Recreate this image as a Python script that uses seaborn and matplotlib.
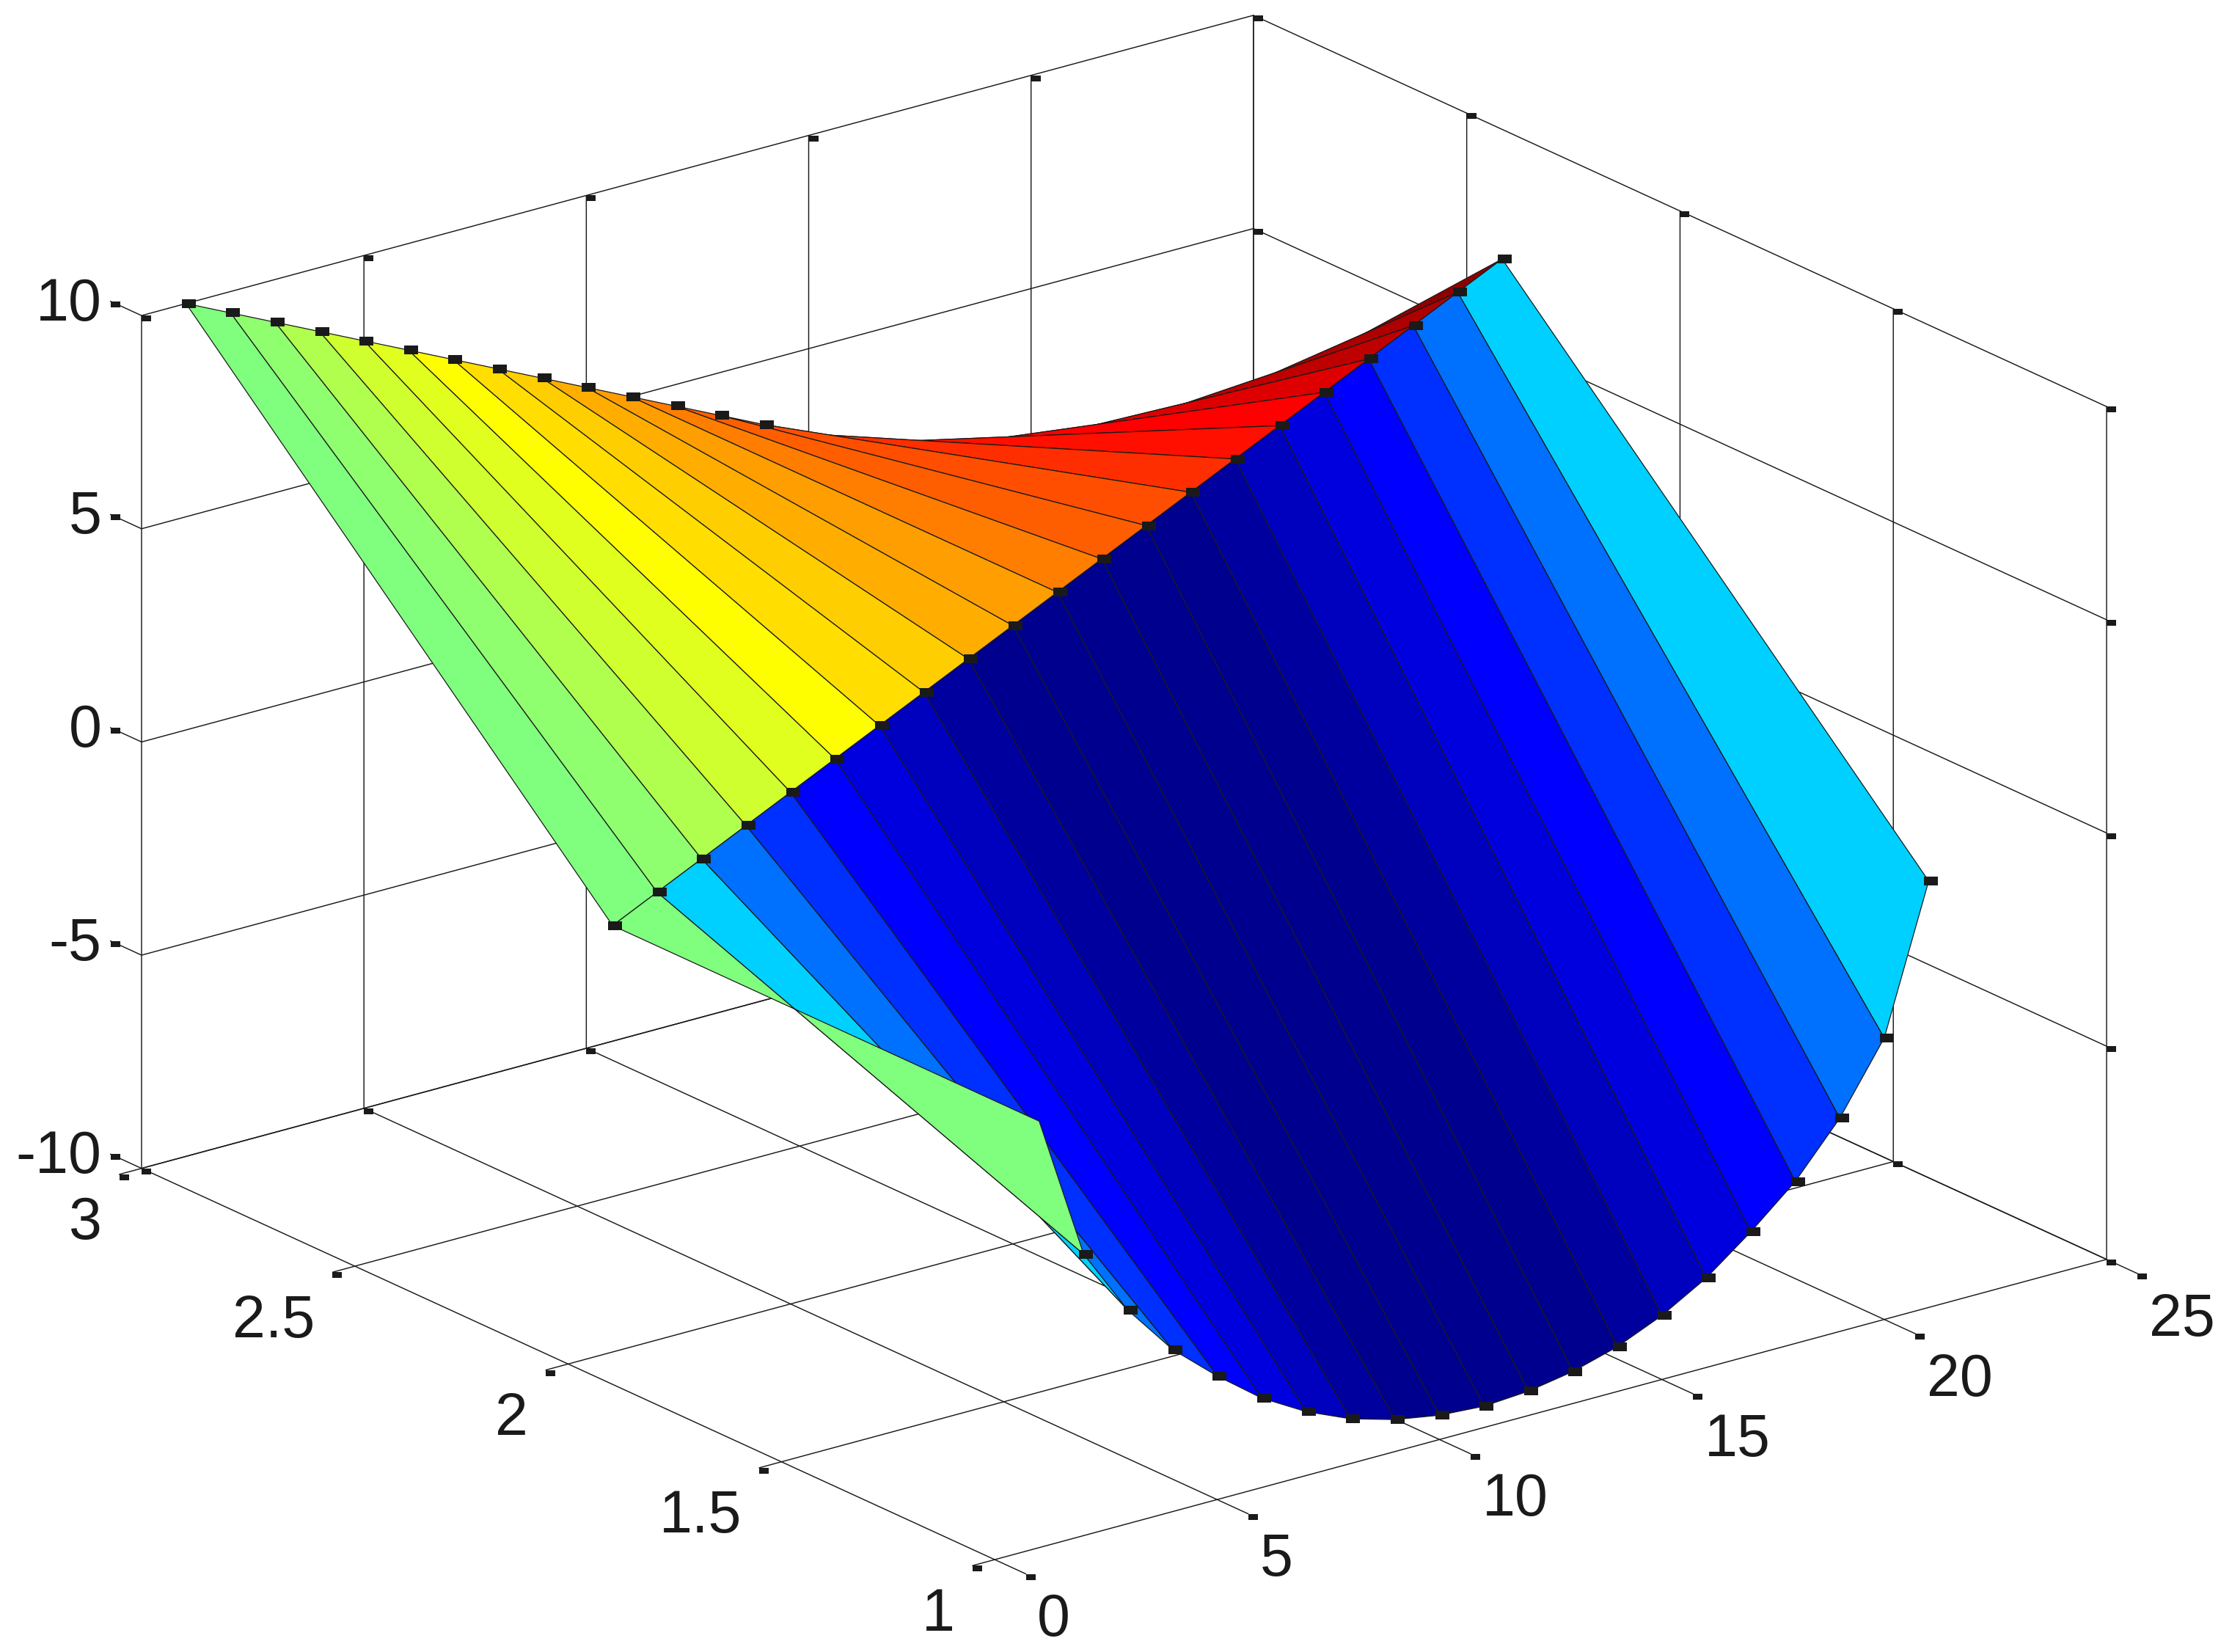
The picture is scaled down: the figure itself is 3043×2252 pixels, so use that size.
import numpy as np
import matplotlib
matplotlib.use("Agg")
import matplotlib.pyplot as plt
from matplotlib.colors import LinearSegmentedColormap, ListedColormap, Normalize
from mpl_toolkits.mplot3d import proj3d
import seaborn as sns

# surface values
x_vals = [1, 2, 3, 4, 5, 6, 7, 8, 9, 10, 11, 12, 13, 14, 15, 16, 17, 18, 19, 20, 21]
y_vals = [1, 2, 3]
z_row1 = [0, -3.4, -5.0, -6.2, -7.1, -7.9, -8.5, -8.95, -9.25, -9.43, -9.5,
          -9.43, -9.25, -8.95, -8.5, -7.9, -7.1, -6.2, -5.0, -3.4, 0]
z_row2 = [0, 0.5, 1, 1.5, 2, 2.5, 3, 3.5, 4, 4.5, 5, 5.5, 6, 6.5, 7, 7.5, 8, 8.5, 9, 9.5, 10]
z_row3 = [10, 9.5, 9, 8.5, 8, 7.5, 7, 6.5, 6, 5.5, 5, 4.5, 4, 3.5, 3, 2.5, 2, 1.5, 1, 0.5, 0]

x_ticks = [0, 5, 10, 15, 20, 25]
y_ticks = [1, 1.5, 2, 2.5, 3]
z_ticks = [-10, -5, 0, 5, 10]
y_tick_labels = ['1', '1.5', '2', '2.5', '3']

sns.set_theme(style="white")
plt.rcParams['font.family'] = ['Liberation Sans', 'DejaVu Sans']

W, H = 3043, 2252
side = 2887
left, bottom = 50, -304
fig = plt.figure(figsize=(W / 300, H / 300), dpi=300, facecolor='white')
ax = fig.add_axes([left / W, bottom / H, side / W, side / H], projection='3d', proj_type='ortho')
ax.view_init(elev=20.6, azim=-127.5)
ax.set_box_aspect((1, 1, 0.65))
ax.computed_zorder = False
ax.set_axis_off()

X, Y = np.meshgrid(x_vals, y_vals)
Z = np.array([z_row1, z_row2, z_row3], dtype=float)

# jet in 64 steps, flat colour taken from the lower corner of each face
ramp = LinearSegmentedColormap.from_list('ramp', [(0, (0, 0, 0.5)), (1 / 8, (0, 0, 1)), (3 / 8, (0, 1, 1)),
                                                  (5 / 8, (1, 1, 0)), (7 / 8, (1, 0, 0)), (1, (0.5, 0, 0))], N=640)
jet = ListedColormap([ramp((i + 1) / 64) for i in range(64)])
norm = Normalize(Z.min(), Z.max())
surf = ax.plot_surface(X, Y, Z, facecolors=jet(norm(Z)), rstride=1, cstride=1,
                       shade=False, linewidth=0.3, antialiased=True, zorder=2)
surf.set_edgecolor('k')

# small black marks at the line ends
corner_mark = [(0, -0.6), (1, -0.6), (1, 0), (0, 0)]
vertex_mark = [(-0.3, -0.3), (0.7, -0.3), (0.7, 0.3), (-0.3, 0.3)]
grid_style = dict(color='k', lw=0.35, zorder=1)
mark_style = dict(color='k', ls='none', marker=corner_mark, ms=6.2, mew=0, zorder=1)

x0, x1 = x_ticks[0], x_ticks[-1]
y0, y1 = y_ticks[0], y_ticks[-1]
z0, z1 = z_ticks[0], z_ticks[-1]
x_tick_len = 0.5
y_tick_len = 0.073

for t in x_ticks:
    ax.plot([t, t, t], [y0 - y_tick_len, y1, y1], [z0, z0, z1], **grid_style)
    ax.plot([t, t, t], [y0 - y_tick_len, y1, y1], [z0, z0, z1], **mark_style)

for t in y_ticks:
    ax.plot([x0 - x_tick_len, x1, x1], [t, t, t], [z0, z0, z1], **grid_style)
    ax.plot([x0 - x_tick_len, x1, x1], [t, t, t], [z0, z0, z1], **mark_style)

for t in z_ticks:
    ax.plot([x0, x0, x1, x1], [y1 + y_tick_len, y1, y1, y0], [t, t, t, t], **grid_style)
    ax.plot([x0, x1, x1], [y1 + y_tick_len, y1, y0], [t, t, t], **mark_style)

# marks on the mesh: the hidden ones are left out
row1_seen = x_vals[1:]
row3_seen = x_vals[:14]
vertex_style = dict(color='k', ls='none', marker=vertex_mark, ms=6.2, mew=0, zorder=3)
ax.plot(row1_seen, [1] * len(row1_seen), z_row1[1:], **vertex_style)
ax.plot(x_vals, [2] * len(x_vals), z_row2, **vertex_style)
ax.plot(row3_seen, [3] * len(row3_seen), z_row3[:14], **vertex_style)

ax.set_xlim(x0, x1)
ax.set_ylim(y0, y1)
ax.set_zlim(z0, z1)


def tick_label(x, y, z, text, ha):
    # project the anchor so the label sits on the flat axes
    px, py, _ = proj3d.proj_transform(x, y, z, ax.get_proj())
    ax.text2D(px, py, text, transform=ax.transData, fontsize=19.4, color='k', ha=ha, va='center')


for t in x_ticks:
    tick_label(t, y0 - 0.1, z0 - 0.97, str(t), 'left')
for t, lab in zip(y_ticks, y_tick_labels):
    tick_label(x0 - 0.9, t, z0 - 1.05, lab, 'right')
for t in z_ticks:
    tick_label(x0 - 0.9, y1, t + 0.5, str(t), 'right')

fig.savefig('out.png', dpi=300, facecolor='white')
